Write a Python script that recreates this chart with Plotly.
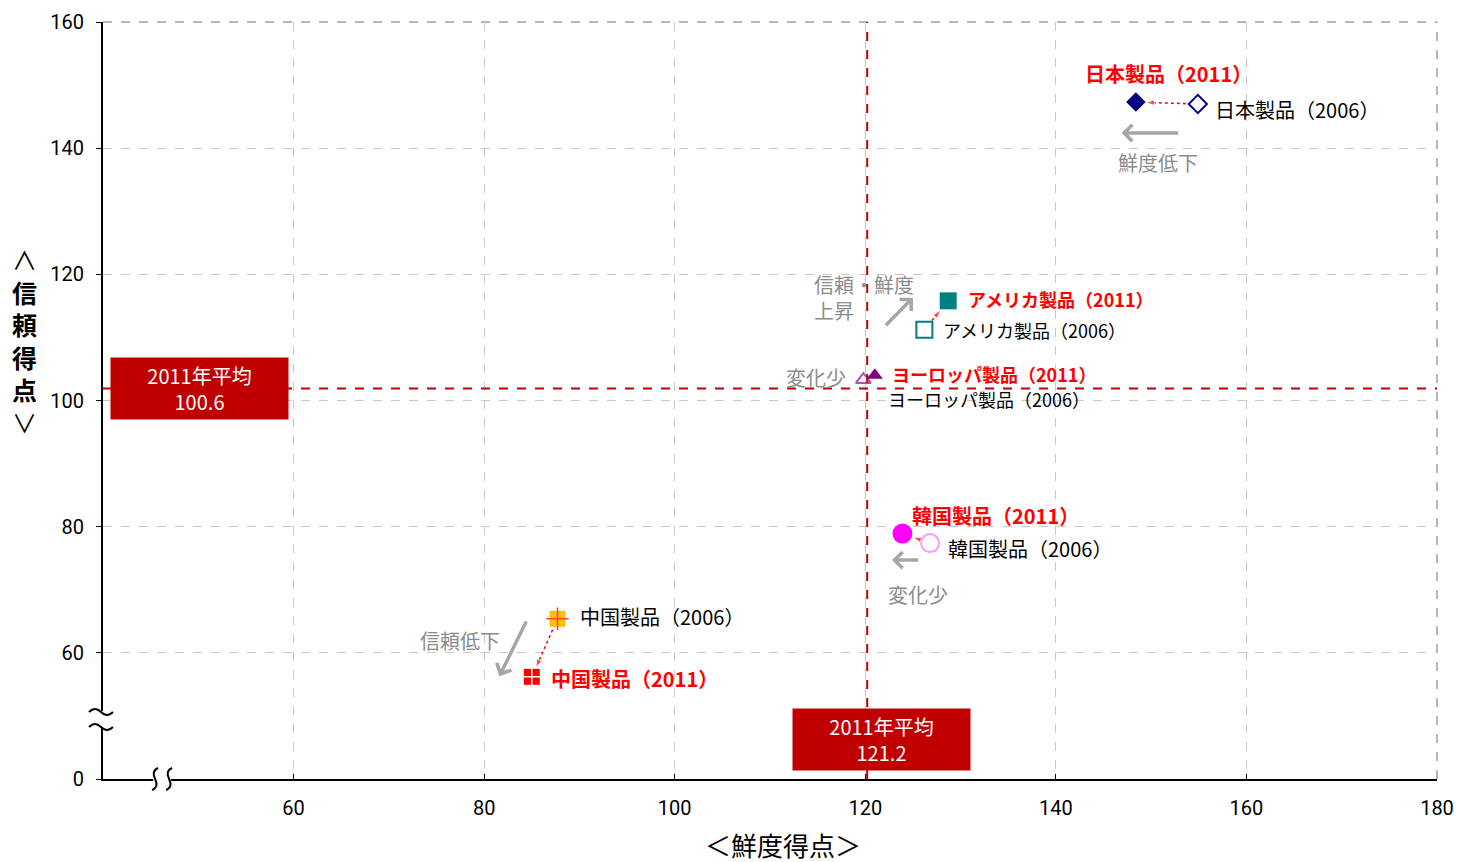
import plotly.graph_objects as go

# ---------------- data ----------------
products = ["日本製品", "アメリカ製品", "ヨーロッパ製品", "韓国製品", "中国製品"]
fresh_2006 = [154.9, 126.2, 119.8, 126.8, 87.7]
trust_2006 = [147.0, 111.2, 103.3, 77.4, 65.4]
fresh_2011 = [148.4, 128.7, 121.0, 123.9, 85.0]
trust_2011 = [147.3, 115.8, 104.0, 78.9, 56.2]

avg_fresh_line = 120.2   # vertical red dashed line position
avg_trust_line = 101.9   # horizontal red dashed line position
avg_fresh_text = "121.2"
avg_trust_text = "100.6"

x_ticks = [60, 80, 100, 120, 140, 160, 180]
y_ticks = [40, 60, 80, 100, 120, 140, 160]
y_ticktext = ["0", "60", "80", "100", "120", "140", "160"]

# label anchor positions (left edge, vertical middle)
lab2011_x = [142.8, 130.6, 122.6, 124.7, 86.8]
lab2011_y = [151.9, 116.1, 104.2, 81.7, 55.9]
lab2006_x = [156.5, 127.9, 122.2, 128.5, 89.8]
lab2006_y = [146.1, 111.2, 100.2, 76.6, 65.7]

# gray comment notes
note_text = ["鮮度低下", "信頼・鮮度<br>上昇", "変化少", "変化少", "信頼低下"]
note_x = [150.7, 114.4, 114.8, 125.5, 77.5]
note_y = [137.8, 116.4, 103.6, 69.3, 61.9]
note_anchor = ["center", "left", "center", "center", "center"]
arrow_tail_x = [153.0, 122.0, 125.7, 84.5]
arrow_tail_y = [142.4, 111.7, 74.7, 65.2]
arrow_head_x = [146.9, 125.0, 122.8, 81.6]
arrow_head_y = [142.4, 116.3, 74.7, 56.3]

# marker / label styles (per product)
sym = ["diamond", "square", "triangle-up", "circle", "square"]
col2011 = ["#000080", "#008080", "#800080", "#FF00FF", "#FF0000"]
col2006 = ["#000080", "#008080", "#B050C0", "#FF99FF", "#FFC000"]
size2011 = [15, 17, 14, 20, 16]
size2006 = [14, 16, 13, 18, 16]
label_font = [20, 18, 18, 20, 20]
conn_standoff = [10, 12, 0, 11, 10]
show_conn = [True, True, False, True, True]

JP = "Noto Sans CJK JP"
fig = go.Figure()

# red dotted connectors with arrow heads (2006 -> 2011)
for i in range(len(products)):
    if not show_conn[i]:
        continue
    fig.add_trace(go.Scatter(
        x=[fresh_2006[i], fresh_2011[i]], y=[trust_2006[i], trust_2011[i]],
        mode="lines+markers",
        line=dict(color="#FF0000", width=1.5, dash="dot"),
        marker=dict(symbol=["circle", "arrow"], size=[0, 9], color="#FF0000",
                    angleref="previous", standoff=[0, conn_standoff[i]]),
        showlegend=False, hoverinfo="skip"))

# 2006 markers (open, white fill)
for i in range(len(products)):
    if i == 4:
        fig.add_trace(go.Scatter(x=[fresh_2006[i]], y=[trust_2006[i]], mode="markers",
                                 marker=dict(symbol="square", size=size2006[i], color=col2006[i],
                                             line=dict(width=0)),
                                 showlegend=False))
        fig.add_trace(go.Scatter(x=[fresh_2006[i]], y=[trust_2006[i]], mode="markers",
                                 marker=dict(symbol="cross-thin", size=size2006[i],
                                             line=dict(width=1.5, color="#FF4040")),
                                 showlegend=False))
    else:
        fig.add_trace(go.Scatter(x=[fresh_2006[i]], y=[trust_2006[i]], mode="markers",
                                 marker=dict(symbol=sym[i], size=size2006[i], color="white",
                                             line=dict(width=2, color=col2006[i])),
                                 showlegend=False))

# 2011 markers (filled)
for i in range(len(products)):
    fig.add_trace(go.Scatter(x=[fresh_2011[i]], y=[trust_2011[i]], mode="markers",
                             marker=dict(symbol=sym[i], size=size2011[i], color=col2011[i],
                                         line=dict(width=0)),
                             showlegend=False))
    if i == 4:
        fig.add_trace(go.Scatter(x=[fresh_2011[i]], y=[trust_2011[i]], mode="markers",
                                 marker=dict(symbol="cross-thin", size=size2011[i],
                                             line=dict(width=1.5, color="white")),
                                 showlegend=False))

# ---------------- labels ----------------
ann = []
for i, p in enumerate(products):
    ann.append(dict(x=lab2011_x[i], y=lab2011_y[i], xref="x", yref="y",
                    text=f"<b>{p}（2011）</b>", showarrow=False, xanchor="left", yanchor="middle",
                    font=dict(family=JP, size=label_font[i], color="#FF0000")))
    ann.append(dict(x=lab2006_x[i], y=lab2006_y[i], xref="x", yref="y",
                    text=f"{p}（2006）", showarrow=False, xanchor="left", yanchor="middle",
                    font=dict(family=JP, size=label_font[i], color="#000000")))

for i, t in enumerate(note_text):
    ann.append(dict(x=note_x[i], y=note_y[i], xref="x", yref="y", text=t, showarrow=False,
                    xanchor=note_anchor[i], yanchor="middle", align="left",
                    font=dict(family=JP, size=20, color="#8C8C8C")))

for i in range(len(arrow_tail_x)):
    ann.append(dict(x=arrow_head_x[i], y=arrow_head_y[i], ax=arrow_tail_x[i], ay=arrow_tail_y[i],
                    xref="x", yref="y", axref="x", ayref="y", text="", showarrow=True,
                    arrowhead=4, arrowsize=0.9, arrowwidth=3.5, arrowcolor="#A6A6A6"))

# average boxes
ann.append(dict(x=0.0727, y=avg_trust_line, xref="paper", yref="y",
                xanchor="center", yanchor="middle",
                text=f"2011年平均<br>{avg_trust_text}", showarrow=False,
                bgcolor="#C00000", width=173, height=57, borderpad=2,
                font=dict(family=JP, size=20, color="white")))
ann.append(dict(x=121.75, y=0.0522, xref="x", yref="paper",
                xanchor="center", yanchor="middle",
                text=f"2011年平均<br>{avg_fresh_text}", showarrow=False,
                bgcolor="#C00000", width=173, height=57, borderpad=2,
                font=dict(family=JP, size=20, color="white")))

# axis titles
ann.append(dict(x=0.51, y=-0.086, xref="paper", yref="paper", text="＜鮮度得点＞",
                showarrow=False, xanchor="center", yanchor="middle",
                font=dict(family=JP, size=26, color="black")))
ann.append(dict(x=-0.0585, y=0.579, xref="paper", yref="paper",
                text="∧<br><b>信<br>頼<br>得<br>点</b><br>∨",
                showarrow=False, xanchor="center", yanchor="middle",
                font=dict(family=JP, size=25, color="black")))

# ---------------- shapes ----------------
shapes = [
    # average lines
    dict(type="line", xref="x", yref="paper", x0=avg_fresh_line, x1=avg_fresh_line, y0=0, y1=1,
         line=dict(color="#C00000", width=2, dash="dash"), layer="above"),
    dict(type="line", xref="paper", yref="y", x0=0, x1=1, y0=avg_trust_line, y1=avg_trust_line,
         line=dict(color="#C00000", width=2, dash="dash"), layer="above"),
    # top / right dashed border
    dict(type="line", xref="paper", yref="paper", x0=0, x1=1, y0=1, y1=1,
         line=dict(color="#A0A0A0", width=1.5, dash="dash"), layer="below"),
    dict(type="line", xref="paper", yref="paper", x0=1, x1=1, y0=0, y1=1,
         line=dict(color="#A0A0A0", width=1.5, dash="dash"), layer="below"),
    # left axis break
    dict(type="rect", xref="paper", yref="y", xsizemode="pixel", ysizemode="pixel",
         xanchor=0, yanchor=49.5, x0=-6, x1=6, y0=-8, y1=8,
         fillcolor="white", line=dict(width=0), layer="above"),
    dict(type="path", xref="paper", yref="y", xsizemode="pixel", ysizemode="pixel",
         xanchor=0, yanchor=49.5, path="M -14,7 Q -8,13 -2,7 T 10,7",
         line=dict(color="black", width=2), layer="above"),
    dict(type="path", xref="paper", yref="y", xsizemode="pixel", ysizemode="pixel",
         xanchor=0, yanchor=49.5, path="M -14,-8 Q -8,-2 -2,-8 T 10,-8",
         line=dict(color="black", width=2), layer="above"),
    # bottom axis break
    dict(type="rect", xref="x", yref="paper", xsizemode="pixel", ysizemode="pixel",
         xanchor=46.2, yanchor=0, x0=-9, x1=9, y0=-6, y1=6,
         fillcolor="white", line=dict(width=0), layer="above"),
    dict(type="path", xref="x", yref="paper", xsizemode="pixel", ysizemode="pixel",
         xanchor=46.2, yanchor=0, path="M -4,11 Q -11,8 -7,0 T -10,-11",
         line=dict(color="black", width=2), layer="above"),
    dict(type="path", xref="x", yref="paper", xsizemode="pixel", ysizemode="pixel",
         xanchor=46.2, yanchor=0, path="M 10,11 Q 3,8 7,0 T 4,-11",
         line=dict(color="black", width=2), layer="above"),
]

fig.update_layout(
    width=1458, height=862,
    margin=dict(l=103, r=21, t=22, b=83, autoexpand=False),
    paper_bgcolor="white", plot_bgcolor="white",
    showlegend=False,
    annotations=ann, shapes=shapes,
    font=dict(family=JP, size=19, color="black"),
)
fig.update_xaxes(range=[40, 180], tickvals=x_ticks, showgrid=True, gridcolor="#C8C8C8",
                 griddash="dash", gridwidth=1, zeroline=False, showline=True, linecolor="black",
                 linewidth=2, ticks="inside", ticklen=5, tickcolor="black", automargin=False,
                 ticklabelstandoff=10,
                 tickfont=dict(family="Roboto", size=20, color="black"))
fig.update_yaxes(range=[40, 160], tickvals=y_ticks, ticktext=y_ticktext, showgrid=True,
                 gridcolor="#C8C8C8", griddash="dash", gridwidth=1, zeroline=False,
                 showline=True, linecolor="black", linewidth=2, ticks="outside", ticklen=5,
                 tickcolor="black", automargin=False, ticklabelstandoff=8,
                 tickfont=dict(family="Roboto", size=20, color="black"))

fig.write_html("out.html")
